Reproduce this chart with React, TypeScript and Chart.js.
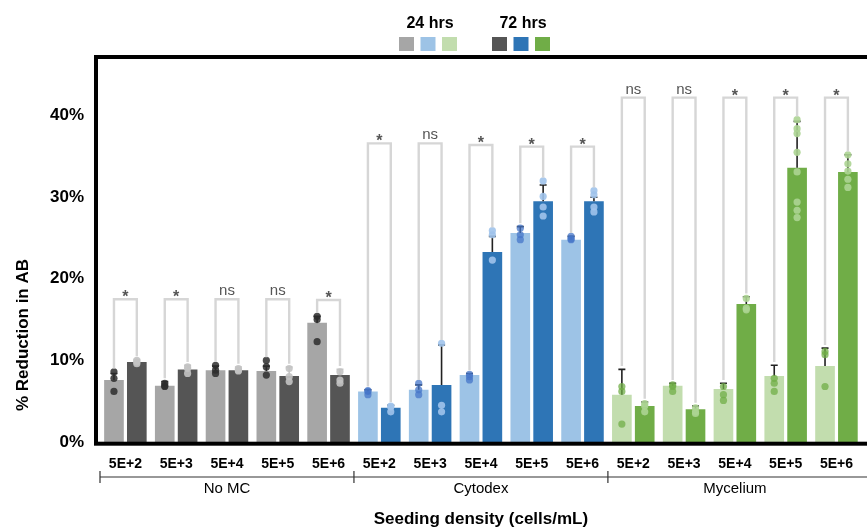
import React, { useEffect, useRef } from "react";
import { Chart, registerables } from "chart.js";

Chart.register(...registerables);

// ---------- data ----------
const DENSITIES = ["5E+2", "5E+3", "5E+4", "5E+5", "5E+6"];
const GROUPS = ["No MC", "Cytodex", "Mycelium"];
const CATEGORIES = GROUPS.flatMap(() => DENSITIES);
const SERIES = ["24 hrs", "72 hrs"];

// mean % reduction in AB
const MEAN_24 = [7.6, 6.9, 8.8, 8.7, 14.6, 6.2, 6.4, 8.2, 25.6, 24.8, 5.8, 6.9, 6.5, 8.1, 9.3];
const MEAN_72 = [9.8, 8.9, 8.8, 8.1, 8.2, 4.2, 7.0, 23.3, 29.5, 29.5, 4.4, 4.0, 16.9, 33.6, 33.1];
// upper end of error bars
const ERR_24 = [8.4, 7.4, 9.3, 9.3, 15.4, 6.4, 7.0, 8.4, 26.4, 25.2, 8.9, 7.2, 7.2, 9.4, 11.5];
const ERR_72 = [10.1, 9.4, 9.2, 9.2, 8.9, 4.5, 11.9, 25.2, 31.5, 30.0, 4.9, 4.4, 17.8, 39.3, 35.2];
// individual replicates
const DOTS_24 = [
  [8.6, 7.8, 6.2], [7.2, 6.8, 6.9], [9.4, 8.8, 8.4], [10.0, 9.2, 8.2], [15.4, 15.0, 12.3],
  [6.2, 5.8, 6.3], [7.2, 6.4, 5.8], [8.0, 7.6, 8.3], [26.2, 25.4, 24.8], [25.2, 24.8, 24.9],
  [6.8, 6.2, 2.2], [6.8, 6.2, 7.0], [6.8, 5.8, 5.1], [7.8, 7.2, 6.2], [11.1, 10.7, 6.8],
];
const DOTS_72 = [
  [10.0, 9.8, 9.6], [9.2, 8.4, 9.0], [9.0, 8.7, 8.8], [9.0, 8.0, 7.4], [8.6, 7.6, 7.2],
  [4.3, 3.7, 4.4], [12.1, 4.5, 3.7], [25.9, 25.4, 22.3], [32.0, 30.1, 28.8, 27.7], [30.8, 30.3, 28.8, 28.2],
  [4.7, 3.7, 4.4], [3.7, 3.5, 4.2], [17.6, 16.4, 16.2],
  [39.5, 38.4, 37.8, 35.5, 33.1, 29.4, 28.4, 27.5], [35.2, 34.1, 33.2, 32.2, 31.2],
];
// significance brackets
const SIG_TOP = [17.5, 17.5, 17.5, 17.5, 17.4, 36.6, 36.6, 36.4, 36.2, 36.2, 42.2, 42.2, 42.2, 42.2, 42.2];
const SIG_LABEL = ["*", "*", "ns", "ns", "*", "*", "ns", "*", "*", "*", "ns", "ns", "*", "*", "*"];
const Y_TICKS = [0, 10, 20, 30, 40];
const Y_MAX = 47;

// ---------- styles ----------
const COLORS_24 = ["#a6a6a6", "#9dc3e6", "#c2ddae"];
const COLORS_72 = ["#555555", "#2e75b6", "#70ad47"];
const DOT_24 = ["rgba(45,45,45,0.85)", "rgba(70,118,200,0.75)", "rgba(112,173,71,0.75)"];
const DOT_72 = ["rgba(195,195,195,0.9)", "rgba(160,195,235,0.9)", "rgba(172,212,146,0.9)"];
const ERRC_24 = ["#222222", "#222222", "#222222"];
const ERRC_72 = ["#c8c8c8", "#222222", "#222222"];
const FONT = "'Liberation Sans', Arial, sans-serif";

const perCat = (arr: string[]) => CATEGORIES.map((_, i) => arr[Math.floor(i / DENSITIES.length)]);

const overlayPlugin = {
  id: "overlay",
  afterDatasetsDraw(chart: any) {
    const ctx = chart.ctx;
    const ys = chart.scales.y;
    const ca = chart.chartArea;
    const errs = [ERR_24, ERR_72];
    const dots = [DOTS_24, DOTS_72];
    const errCols = [perCat(ERRC_24), perCat(ERRC_72)];
    const dotCols = [perCat(DOT_24), perCat(DOT_72)];
    ctx.save();
    // error bars (upper) and replicate dots
    for (let d = 0; d < 2; d++) {
      const meta = chart.getDatasetMeta(d);
      meta.data.forEach((bar: any, j: number) => {
        const yTop = ys.getPixelForValue(errs[d][j]);
        ctx.strokeStyle = errCols[d][j];
        ctx.lineWidth = 1.6;
        ctx.beginPath();
        ctx.moveTo(bar.x, bar.y);
        ctx.lineTo(bar.x, yTop);
        ctx.moveTo(bar.x - 3.5, yTop);
        ctx.lineTo(bar.x + 3.5, yTop);
        ctx.stroke();
        ctx.fillStyle = dotCols[d][j];
        dots[d][j].forEach((v: number) => {
          ctx.beginPath();
          ctx.arc(bar.x, ys.getPixelForValue(v), 3.6, 0, Math.PI * 2);
          ctx.fill();
        });
      });
    }
    // significance brackets
    const m0 = chart.getDatasetMeta(0);
    const m1 = chart.getDatasetMeta(1);
    CATEGORIES.forEach((_, j) => {
      const xl = m0.data[j].x;
      const xr = m1.data[j].x;
      const legL = Math.max(ERR_24[j], ...DOTS_24[j]) + 0.4;
      const legR = Math.max(ERR_72[j], ...DOTS_72[j]) + 0.4;
      const yt = ys.getPixelForValue(SIG_TOP[j]);
      ctx.strokeStyle = "#d6d6d6";
      ctx.lineWidth = 2.4;
      ctx.beginPath();
      ctx.moveTo(xl, ys.getPixelForValue(legL));
      ctx.lineTo(xl, yt);
      ctx.lineTo(xr, yt);
      ctx.lineTo(xr, ys.getPixelForValue(legR));
      ctx.stroke();
      ctx.fillStyle = "#555555";
      ctx.textAlign = "center";
      ctx.textBaseline = "alphabetic";
      const cx = (xl + xr) / 2;
      if (SIG_LABEL[j] === "*") {
        ctx.font = `bold 16px ${FONT}`;
        ctx.fillText("*", cx, yt + 3);
      } else {
        ctx.font = `15px ${FONT}`;
        ctx.fillText(SIG_LABEL[j], cx, yt - 4);
      }
    });
    // frame
    ctx.strokeStyle = "#000";
    ctx.lineWidth = 4;
    ctx.strokeRect(ca.left - 4, ca.top - 1.5, ca.right - ca.left + 12, ca.bottom - ca.top + 3.2);
    ctx.restore();
  },
  afterDraw(chart: any) {
    const ctx = chart.ctx;
    const xs = chart.scales.x;
    const ca = chart.chartArea;
    const W = chart.width;
    ctx.save();
    // group brackets under the axis
    const step = xs.getPixelForValue(1) - xs.getPixelForValue(0);
    const lineY = ca.bottom + 35;
    ctx.strokeStyle = "#333";
    ctx.lineWidth = 1.2;
    ctx.beginPath();
    ctx.moveTo(xs.getPixelForValue(0) - step / 2, lineY);
    ctx.lineTo(W, lineY);
    GROUPS.forEach((g, gi) => {
      const first = gi * DENSITIES.length;
      const bx = xs.getPixelForValue(first) - step / 2;
      ctx.moveTo(bx, lineY - 6);
      ctx.lineTo(bx, lineY + 6);
    });
    ctx.stroke();
    ctx.fillStyle = "#000";
    ctx.font = `15px ${FONT}`;
    ctx.textAlign = "center";
    ctx.textBaseline = "middle";
    GROUPS.forEach((g, gi) => {
      const first = gi * DENSITIES.length;
      const last = first + DENSITIES.length - 1;
      const cx = (xs.getPixelForValue(first) + xs.getPixelForValue(last)) / 2;
      ctx.fillText(g, cx, ca.bottom + 47);
    });
    // axis titles
    ctx.font = `bold 17px ${FONT}`;
    ctx.fillText("Seeding density (cells/mL)", (ca.left + ca.right) / 2, ca.bottom + 77);
    ctx.save();
    ctx.translate(23, ca.bottom - 107);
    ctx.rotate(-Math.PI / 2);
    ctx.fillText("% Reduction in AB", 0, 0);
    ctx.restore();
    // legend
    const legends = [
      { label: SERIES[0], cx: 430, colors: COLORS_24 },
      { label: SERIES[1], cx: 523, colors: COLORS_72 },
    ];
    ctx.font = `bold 16px ${FONT}`;
    legends.forEach((l) => {
      ctx.fillStyle = "#000";
      ctx.fillText(l.label, l.cx, 24);
      l.colors.forEach((c, k) => {
        ctx.fillStyle = c;
        ctx.fillRect(l.cx - 31 + k * 21.5, 37, 15, 14);
      });
    });
    ctx.restore();
  },
};

export default function App() {
  const ref = useRef<HTMLCanvasElement | null>(null);
  useEffect(() => {
    if (!ref.current) return;
    const chart = new Chart(ref.current, {
      type: "bar",
      data: {
        labels: CATEGORIES,
        datasets: [
          {
            label: SERIES[0],
            data: MEAN_24,
            backgroundColor: perCat(COLORS_24),
            categoryPercentage: 0.9,
            barPercentage: 0.86,
          },
          {
            label: SERIES[1],
            data: MEAN_72,
            backgroundColor: perCat(COLORS_72),
            categoryPercentage: 0.9,
            barPercentage: 0.86,
          },
        ],
      },
      options: {
        responsive: false,
        animation: false,
        layout: { padding: { left: 0, right: 0, top: 58.5, bottom: 0 } },
        plugins: { legend: { display: false }, tooltip: { enabled: false } },
        scales: {
          x: {
            grid: { display: false, drawTicks: false },
            border: { display: false },
            ticks: {
              font: { family: FONT, size: 14, weight: "bold" },
              color: "#000",
              padding: 14,
              maxRotation: 0,
              autoSkip: false,
            },
            afterFit: (s: any) => {
              s.height = 85;
            },
          },
          y: {
            min: 0,
            max: Y_MAX,
            grid: { display: false, drawTicks: false },
            border: { display: false },
            afterBuildTicks: (s: any) => {
              s.ticks = Y_TICKS.map((v) => ({ value: v }));
            },
            ticks: {
              callback: (v: any) => `${v}%`,
              font: { family: FONT, size: 17, weight: "bold" },
              color: "#000",
              padding: 16,
            },
            afterFit: (s: any) => {
              s.width = 100;
            },
          },
        },
      },
      plugins: [overlayPlugin],
    } as any);
    return () => chart.destroy();
  }, []);
  return (
    <div style={{ position: "absolute", left: 0, top: 0, width: 867, height: 527, background: "#fff" }}>
      <canvas ref={ref} width={867} height={527} style={{ width: 867, height: 527 }} />
    </div>
  );
}
